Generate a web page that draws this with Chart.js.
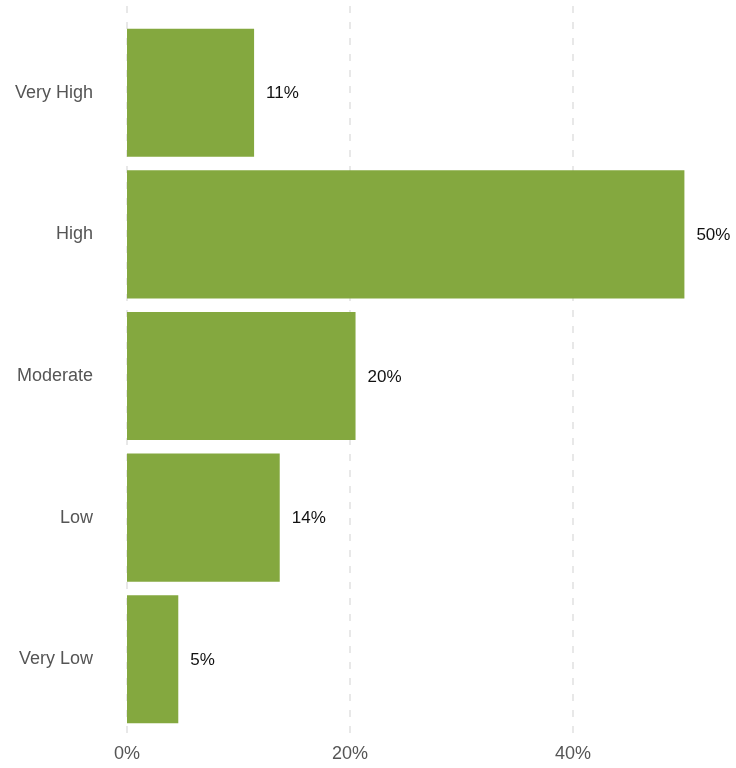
<!DOCTYPE html>
<html>
<head>
<meta charset="utf-8">
<script src="https://cdn.jsdelivr.net/npm/chart.js@4/dist/chart.umd.min.js"></script>
<style>
  html, body { margin: 0; padding: 0; background: #ffffff; }
  #wrap { width: 736px; height: 768px; position: relative; }
</style>
</head>
<body>
<div id="wrap"><canvas id="c"></canvas></div>
<script>
const categories = ["Very High", "High", "Moderate", "Low", "Very Low"];
const values = [11.4, 50.0, 20.5, 13.7, 4.6];
const valueLabels = ["11%", "50%", "20%", "14%", "5%"];
const xTicks = [0, 20, 40];

const barColor = "#84a83f";
const axisTextColor = "#555555";
const gridColor = "#e8e8e8";
const FONT = "'Liberation Sans', Arial, Helvetica, sans-serif";

const gridPlugin = {
  id: "fullGrid",
  beforeDatasetsDraw(chart) {
    const ctx = chart.ctx;
    const xs = chart.scales.x;
    const area = chart.chartArea;
    ctx.save();
    ctx.strokeStyle = gridColor;
    ctx.lineWidth = 2;
    ctx.setLineDash([7, 9]);
    xTicks.forEach(v => {
      const x = Math.round(xs.getPixelForValue(v));
      ctx.beginPath();
      ctx.moveTo(x, 6);
      ctx.lineTo(x, area.bottom + 5);
      ctx.stroke();
    });
    ctx.restore();
  }
};

const labelPlugin = {
  id: "valueLabels",
  afterDatasetsDraw(chart) {
    const ctx = chart.ctx;
    const meta = chart.getDatasetMeta(0);
    ctx.save();
    ctx.fillStyle = "#111111";
    ctx.font = "17px " + FONT;
    ctx.textAlign = "left";
    ctx.textBaseline = "middle";
    meta.data.forEach((bar, i) => {
      ctx.fillText(valueLabels[i], bar.x + 12, bar.y + 1);
    });
    ctx.restore();
  }
};

new Chart(document.getElementById("c"), {
  type: "bar",
  data: {
    labels: categories,
    datasets: [{
      data: values,
      backgroundColor: barColor,
      borderWidth: 0,
      categoryPercentage: 1.0,
      barPercentage: 0.905
    }]
  },
  options: {
    indexAxis: "y",
    responsive: true,
    maintainAspectRatio: false,
    animation: false,
    devicePixelRatio: 1,
    layout: { padding: { top: 22, right: 7, left: 0, bottom: 0 } },
    plugins: { legend: { display: false }, tooltip: { enabled: false } },
    scales: {
      x: {
        min: 0,
        max: 54,
        afterBuildTicks(scale) { scale.ticks = xTicks.map(v => ({ value: v })); },
        grid: { display: false, drawTicks: false },
        border: { display: false },
        ticks: {
          padding: 13,
          color: axisTextColor,
          font: { size: 18, family: FONT },
          callback: v => v + "%",
          maxRotation: 0
        },
        afterFit(scale) { scale.height = 38; scale.paddingLeft = 0; scale.paddingRight = 0; }
      },
      y: {
        grid: { display: false, drawTicks: false },
        border: { display: false },
        ticks: {
          padding: 34,
          color: axisTextColor,
          font: { size: 18, family: FONT }
        },
        afterFit(scale) { scale.width = 127; scale.paddingTop = 0; scale.paddingBottom = 0; }
      }
    }
  },
  plugins: [gridPlugin, labelPlugin]
});
</script>
</body>
</html>
